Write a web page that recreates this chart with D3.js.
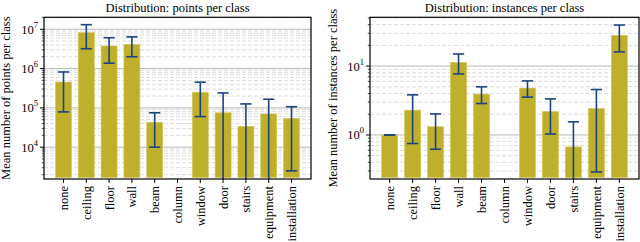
<!DOCTYPE html>
<html>
<head>
<meta charset="utf-8">
<script src="https://cdn.jsdelivr.net/npm/d3@7"></script>
<style>
  body { margin: 0; background: #fff; }
</style>
</head>
<body>
<svg id="chart" width="640" height="242" font-family="'Liberation Serif', 'Times New Roman', Times, 'DejaVu Serif', serif"></svg>
<script>
// categories shared by both panels
let classes = ['none', 'ceiling', 'floor', 'wall', 'beam', 'column', 'window', 'door', 'stairs', 'equipment', 'installation']

// points per class: mean, lower and upper end of the error bar (0 = below axis)
let pointsMean = [4.56e5, 8.2e6, 3.76e6, 4.15e6, 4.3e4, null, 2.5e5, 7.5e4, 3.4e4, 7.0e4, 5.4e4]
let pointsLow = [7.9e4, 3.2e6, 1.37e6, 2.0e6, 1.0e4, null, 6.0e4, 0, 0, 0, 2.5e3]
let pointsHigh = [8.2e5, 1.31e7, 6.1e6, 6.4e6, 7.5e4, null, 4.5e5, 2.4e5, 1.26e5, 1.66e5, 1.07e5]

// instances per class
let instMean = [1.0, 2.29, 1.32, 11.3, 3.91, null, 4.79, 2.19, 0.67, 2.42, 28]
let instLow = [1.0, 0.75, 0.62, 7.7, 2.86, null, 3.54, 1.03, 0, 0.29, 16.1]
let instHigh = [1.0, 3.82, 2.02, 15.0, 5.0, null, 6.1, 3.34, 1.55, 4.57, 39.5]

let pointsTicks = [1e4, 1e5, 1e6, 1e7]
let instTicks = [1, 10]

let barColor = '#bfb02b'
let errColor = '#1d4380'

let svg = d3.select('#chart')

function drawPanel(opt){
	let x0 = opt.left, x1 = opt.right, y0 = 17.3, y1 = 179

	let xScale = d3.scalePoint()
		.domain(classes)
		.range([x0, x1])
		.padding(0.855)

	let yScale = d3.scaleLog()
		.domain(opt.domain)
		.range([y1, y0])

	let g = svg.append('g')

	// minor grid
	let lo = Math.floor(Math.log10(opt.domain[0])), hi = Math.ceil(Math.log10(opt.domain[1]))
	let minors = []
	for (let e = lo; e <= hi; e++){
		for (let k = 2; k <= 9; k++){
			let v = k * Math.pow(10, e)
			if (v > opt.domain[0] && v < opt.domain[1]) minors.push(v)
		}
	}

	g.selectAll('.minorGrid').data(minors).enter().append('line')
		.attr('x1', x0).attr('x2', x1)
		.attr('y1', d => yScale(d)).attr('y2', d => yScale(d))
		.attr('stroke', '#dcdcdc')
		.attr('stroke-width', 1)
		.attr('stroke-dasharray', '4,2')

	g.selectAll('.majorGrid').data(opt.ticks).enter().append('line')
		.attr('x1', x0).attr('x2', x1)
		.attr('y1', d => yScale(d)).attr('y2', d => yScale(d))
		.attr('stroke', '#b8b8b8')
		.attr('stroke-width', 1)

	// bars
	let idx = d3.range(classes.length).filter(i => opt.mean[i] != null)
	let bw = xScale.step() * 0.7

	g.selectAll('.bar').data(idx).enter().append('rect')
		.attr('x', i => xScale(classes[i]) - bw/2)
		.attr('width', bw)
		.attr('y', i => yScale(opt.mean[i]))
		.attr('height', i => y1 - 1.5 - yScale(opt.mean[i]))
		.attr('fill', barColor)
		.attr('stroke', '#d2c65a')
		.attr('stroke-width', 0.6)

	// error bars
	let yErr = v => v <= opt.domain[0] ? y1 : yScale(v)
	let cap = 5.6

	g.selectAll('.errLine').data(idx).enter().append('line')
		.attr('x1', i => xScale(classes[i])).attr('x2', i => xScale(classes[i]))
		.attr('y1', i => yErr(opt.low[i])).attr('y2', i => yScale(opt.high[i]))
		.attr('stroke', errColor).attr('stroke-width', 1.6)

	g.selectAll('.capTop').data(idx).enter().append('line')
		.attr('x1', i => xScale(classes[i]) - cap).attr('x2', i => xScale(classes[i]) + cap)
		.attr('y1', i => yScale(opt.high[i])).attr('y2', i => yScale(opt.high[i]))
		.attr('stroke', errColor).attr('stroke-width', 1.6)

	g.selectAll('.capBot').data(idx.filter(i => opt.low[i] > opt.domain[0])).enter().append('line')
		.attr('x1', i => xScale(classes[i]) - cap).attr('x2', i => xScale(classes[i]) + cap)
		.attr('y1', i => yScale(opt.low[i])).attr('y2', i => yScale(opt.low[i]))
		.attr('stroke', errColor).attr('stroke-width', 1.6)

	// frame
	g.append('rect')
		.attr('x', x0).attr('y', y0)
		.attr('width', x1 - x0).attr('height', y1 - y0)
		.attr('fill', 'none')
		.attr('stroke', '#000')
		.attr('stroke-width', 1.2)

	// y axis ticks
	g.selectAll('.minorTick').data(minors).enter().append('line')
		.attr('x1', x0 - 2.2).attr('x2', x0)
		.attr('y1', d => yScale(d)).attr('y2', d => yScale(d))
		.attr('stroke', '#000').attr('stroke-width', 0.7)

	g.selectAll('.majorTick').data(opt.ticks).enter().append('line')
		.attr('x1', x0 - 4).attr('x2', x0)
		.attr('y1', d => yScale(d)).attr('y2', d => yScale(d))
		.attr('stroke', '#000').attr('stroke-width', 1)

	let lab = g.selectAll('.yLab').data(opt.ticks).enter().append('text')
		.attr('x', x0 - 6)
		.attr('y', d => yScale(d) + 4.5)
		.attr('text-anchor', 'end')
		.style('font-size', '12.5px')
	lab.append('tspan').text('10')
	lab.append('tspan')
		.attr('dy', -6)
		.style('font-size', '8.5px')
		.text(d => Math.round(Math.log10(d)))

	// x axis ticks and labels
	g.selectAll('.xTick').data(classes).enter().append('line')
		.attr('x1', d => xScale(d)).attr('x2', d => xScale(d))
		.attr('y1', y1).attr('y2', y1 + 4)
		.attr('stroke', '#000').attr('stroke-width', 1)

	g.selectAll('.xLab').data(classes).enter().append('text')
		.attr('transform', d => `translate(${xScale(d) + 4.5}, ${y1 + 7}) rotate(-90)`)
		.attr('text-anchor', 'end')
		.style('font-size', '12.5px')
		.text(d => d)

	// title and y label
	g.append('text')
		.attr('x', (x0 + x1)/2)
		.attr('y', 12)
		.attr('text-anchor', 'middle')
		.style('font-size', '12.5px')
		.text(opt.title)

	g.append('text')
		.attr('transform', `translate(${opt.yLabelX}, ${(y0 + y1)/2}) rotate(-90)`)
		.attr('text-anchor', 'middle')
		.style('font-size', '12.5px')
		.text(opt.yLabel)
}

drawPanel({
	left: 44, right: 311,
	domain: [Math.pow(10, 3.19), Math.pow(10, 7.305)],
	ticks: pointsTicks,
	mean: pointsMean, low: pointsLow, high: pointsHigh,
	title: 'Distribution: points per class',
	yLabel: 'Mean number of points per class',
	yLabelX: 10
})

drawPanel({
	left: 370, right: 639,
	domain: [Math.pow(10, -0.64), Math.pow(10, 1.709)],
	ticks: instTicks,
	mean: instMean, low: instLow, high: instHigh,
	title: 'Distribution: instances per class',
	yLabel: 'Mean number of instances per class',
	yLabelX: 337
})
</script>
</body>
</html>
